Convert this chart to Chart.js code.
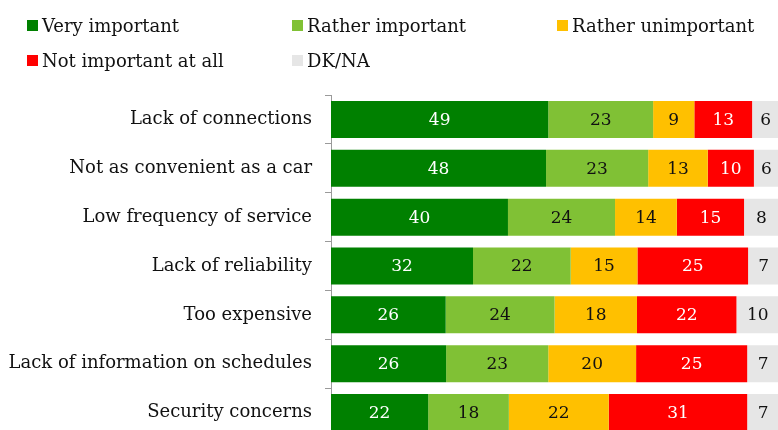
<!DOCTYPE html>
<html><head><meta charset="utf-8">
<script src="https://cdn.jsdelivr.net/npm/chart.js@4"></script>
<style>
html,body{margin:0;padding:0;width:778px;height:430px;overflow:hidden;background:#fff}
#wrap{position:relative;width:780px;height:440px}
#legend{position:absolute;left:0;top:0;width:778px;height:80px;font-family:'DejaVu Serif';font-size:18px;color:#111}
.item{position:absolute;display:flex;align-items:center;white-space:nowrap;height:20px}
.box{width:11px;height:11px;margin-right:4px;flex:none}
</style></head><body>
<div id="wrap"><canvas id="c" width="780" height="440"></canvas><div id="legend"></div></div>
<script>
const categories = ["Lack of connections","Not as convenient as a car","Low frequency of service","Lack of reliability","Too expensive","Lack of information on schedules","Security concerns"];
const seriesNames = ["Very important","Rather important","Rather unimportant","Not important at all","DK/NA"];
const veryImportant = [48.5,48.0,39.5,31.7,25.6,25.7,21.7];
const ratherImportant = [23.4,22.8,23.9,21.8,24.3,22.8,18.0];
const ratherUnimportant = [9.2,13.3,13.8,14.9,18.4,19.6,22.3];
const notImportant = [12.9,10.3,15.0,24.7,22.2,24.8,30.9];
const dkNa = [6.0,5.6,7.8,6.9,9.5,7.1,7.1];
const colors = ["#008000","#80C135","#FFC000","#FF0000","#E6E6E6"];
const labelColors = ["#ffffff","#111111","#111111","#ffffff","#111111"];

const seriesData = [veryImportant,ratherImportant,ratherUnimportant,notImportant,dkNa];
const datasets = seriesNames.map((n,i)=>({label:n,data:seriesData[i],backgroundColor:colors[i],labelColor:labelColors[i],borderWidth:0,barPercentage:0.757,categoryPercentage:1}));

const valueLabels = {id:'valueLabels', afterDatasetsDraw(chart){
  const ctx=chart.ctx; ctx.save();
  ctx.font='17px "DejaVu Serif"'; ctx.textAlign='center'; ctx.textBaseline='middle';
  chart.data.datasets.forEach((ds,i)=>{
    const meta=chart.getDatasetMeta(i);
    meta.data.forEach((el,j)=>{
      const cx=(el.x+el.base)/2;
      ctx.fillStyle=ds.labelColor;
      ctx.fillText(String(Math.round(ds.data[j])), cx, el.y+1);
    });
  });
  ctx.restore();
}};

const chart = new Chart(document.getElementById('c'),{
  type:'bar',
  data:{labels:categories,datasets},
  options:{
    responsive:false, animation:false, indexAxis:'y', devicePixelRatio:1,
    layout:{padding:{top:95,right:1,bottom:3,left:0}},
    plugins:{legend:{display:false},tooltip:{enabled:false}},
    scales:{
      x:{stacked:true,min:0,max:100,display:false},
      y:{stacked:true,
         grid:{drawOnChartArea:false,tickLength:6,color:'#9a9a9a',offset:true},
         border:{color:'#9a9a9a'},
         ticks:{padding:13,color:'#111',font:{family:'DejaVu Serif',size:18}},
         afterFit(s){s.width=331;s.paddingTop=0;s.paddingBottom=0;}}
    }
  },
  plugins:[valueLabels]
});

const legendPos = [[27,15],[292,15],[557,15],[27,50],[292,50]];
const legend = document.getElementById('legend');
chart.data.datasets.forEach((ds,i)=>{
  const it=document.createElement('div'); it.className='item';
  it.style.left=legendPos[i][0]+'px'; it.style.top=legendPos[i][1]+'px';
  const b=document.createElement('span'); b.className='box'; b.style.background=ds.backgroundColor;
  const t=document.createElement('span'); t.textContent=ds.label;
  it.appendChild(b); it.appendChild(t); legend.appendChild(it);
});
</script>
</body></html>
